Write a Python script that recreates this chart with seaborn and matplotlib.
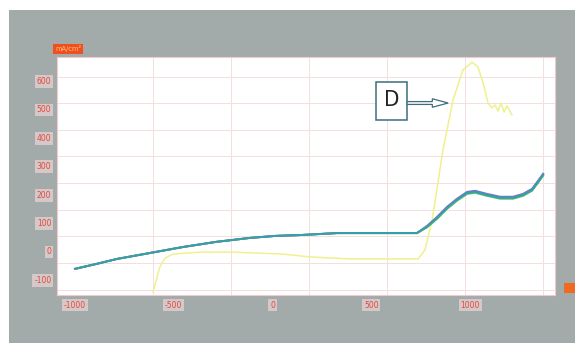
import matplotlib
matplotlib.use("Agg")
import matplotlib.pyplot as plt
from matplotlib.patches import Rectangle, FancyArrow
import seaborn as sns
import pandas as pd

# ---- data ----
x_ticks = [-1000, -500, 0, 500, 1000]
x_tick_labels = ["-1000", "-500", "0", "500", "1000"]
y_ticks = [600, 500, 400, 300, 200, 100, 0, -100]
y_tick_labels = ["600", "500", "400", "300", "200", "100", "0", "-100"]
x_grid = [-1000, -605, -210, 185, 580, 975, 1370]
y_grid = [-136, -42, 52, 146, 239, 333, 427, 521, 614]

yellow_x = [-605, -570, -544, -504, -367, -200, 53, 190, 392, 544, 737, 772, 808,
            863, 914, 964, 1010, 1040, 1066, 1091, 1111, 1126, 1142, 1157, 1172, 1187, 1212]
yellow_y = [-144, -56, -25, -11, -4, -4, -11, -21, -28, -28, -28, 4, 109,
            356, 532, 637, 665, 648, 592, 521, 504, 514, 493, 521, 489, 511, 479]

main_x = [-1000, -894, -787, -620, -453, -286, -114, 13, 139, 327, 440, 544, 731,
          782, 833, 883, 934, 985, 1025, 1086, 1152, 1218, 1268, 1314, 1344, 1370]
teal_y = [-63, -46, -28, -7, 14, 32, 46, 53, 56, 63, 63, 63, 63,
          85, 116, 151, 180, 204, 208, 197, 187, 187, 197, 215, 243, 268]
blue_y = [-63, -46, -28, -7, 14, 32, 46, 53, 56, 63, 63, 63, 63,
          88, 120, 155, 184, 208, 212, 201, 191, 191, 201, 219, 247, 272]
pink_y = [-63, -46, -28, -7, 14, 32, 46, 53, 56, 63, 63, 63, 63,
          87, 118, 153, 182, 206, 210, 199, 189, 189, 199, 217, 245, 270]
green_y = [-63, -46, -28, -7, 14, 32, 46, 53, 56, 63, 63, 63, 63,
           83, 113, 148, 177, 201, 205, 194, 184, 184, 194, 212, 240, 265]

unit_label = "mA/cm²"
annot_label = "D"

# ---- figure ----
W, H = 575, 343
fig = plt.figure(figsize=(W / 100, H / 100), dpi=100, facecolor="white")

def fx(px):
    return px / W

def fy(py):
    return 1 - py / H

gray = "#a3aaaa"
fig.patches.append(Rectangle((fx(9), 0), 1 - fx(9), fy(10), transform=fig.transFigure,
                             facecolor=gray, edgecolor="none", zorder=0))
fig.patches.append(Rectangle((fx(564), fy(293)), fx(11), 10 / H, transform=fig.transFigure,
                             facecolor="#f06a22", edgecolor="none", zorder=1))

ax = fig.add_axes([fx(57), fy(295), fx(555 - 57), (295 - 57) / H])
ax.set_zorder(5)
ax.set_facecolor("white")
ax.set_xlim(-1091, 1430)
ax.set_ylim(-155, 683)

# grid
ax.set_xticks(x_grid, minor=True)
ax.set_yticks(y_grid, minor=True)
ax.grid(which="minor", color="#f4dede", linewidth=0.7)
ax.grid(which="major", visible=False)
ax.set_axisbelow(True)

# series
lines = [
    (yellow_x, yellow_y, "#f0f08e", 1.1),
    (main_x, green_y, "#5cbf6a", 1.4),
    (main_x, pink_y, "#e58a8a", 1.4),
    (main_x, blue_y, "#7c72cc", 1.4),
    (main_x, teal_y, "#2fa3a6", 1.4),
]
for xs, ys, c, lw in lines:
    df = pd.DataFrame({"x": xs, "y": ys})
    sns.lineplot(data=df, x="x", y="y", ax=ax, color=c, linewidth=lw, sort=False,
                 estimator=None)

ax.set_xlabel("")
ax.set_ylabel("")

# ticks
ax.set_xticks(x_ticks)
ax.set_xticklabels(x_tick_labels)
ax.set_yticks(y_ticks)
ax.set_yticklabels(y_tick_labels)
ax.tick_params(which="both", length=0)
ax.tick_params(axis="x", pad=4)
ax.tick_params(axis="y", pad=4)
for lab in ax.get_xticklabels() + ax.get_yticklabels():
    lab.set_fontsize(5.5)
    lab.set_color("#e8463c")
    lab.set_bbox(dict(facecolor="#d4c8c8", edgecolor="none", pad=1.3))

for s in ax.spines.values():
    s.set_color("#f0caca")
    s.set_linewidth(0.8)

# unit label
fig.text(fx(55), fy(49), unit_label, fontsize=4.8, color="#ffc080", ha="left", va="center",
         bbox=dict(facecolor="#f0501e", edgecolor="none", pad=1.3))

# annotation box with D and hollow arrow
ax.add_patch(Rectangle((524, 461), 157, 134, facecolor="white", edgecolor="#3d6e7c",
                       linewidth=1.1, zorder=5))
ax.text(602, 530, annot_label, fontsize=16, color="#222222", ha="center", va="center",
        zorder=6, family="DejaVu Sans", stretch="condensed")
ax.add_patch(FancyArrow(681, 521, 208, 0, width=10, head_width=30, head_length=80,
                        length_includes_head=True, facecolor="white", edgecolor="#3d6e7c",
                        linewidth=0.9, zorder=5))

fig.savefig("out.png", dpi=100, facecolor="white")
